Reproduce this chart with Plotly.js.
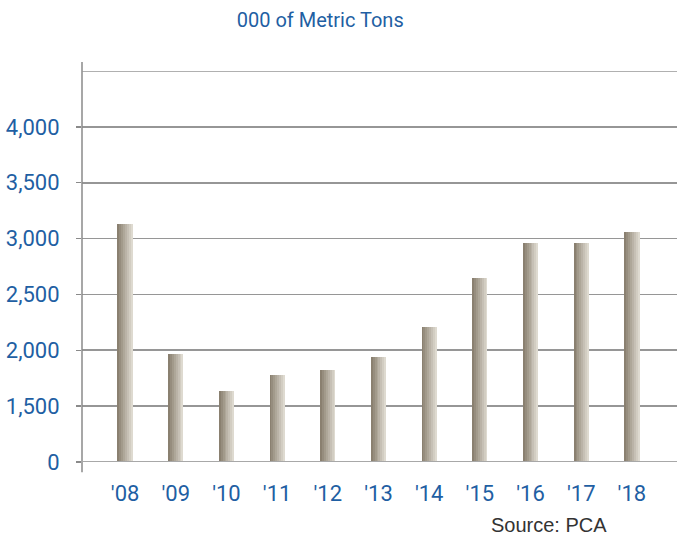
<!DOCTYPE html>
<html>
<head>
<meta charset="utf-8">
<script src="https://cdn.plot.ly/plotly-3.0.1.min.js"></script>
<style>
html,body{margin:0;padding:0;background:#fff;}#chart{width:677px;height:538px;}
</style>
</head>
<body>
<div id="chart"></div>
<script>
const years = ["'08","'09","'10","'11","'12","'13","'14","'15","'16","'17","'18"];
const shipments = [3128, 1964, 1634, 1778, 1823, 1937, 2206, 2646, 2958, 2958, 3056];
const yTickValues = [1000, 1500, 2000, 2500, 3000, 3500, 4000];
const yTickLabels = ["0", "1,500", "2,000", "2,500", "3,000", "3,500", "4,000"];

const barWidth = 0.3;
const strips = 8;
const c0 = [138, 128, 112], c1 = [222, 218, 208];
const traces = [];
for (let i = 0; i < strips; i++) {
  const t = i / (strips - 1);
  const c = c0.map((v, k) => Math.round(v + (c1[k] - v) * t));
  traces.push({
    type: 'bar', x: years, y: shipments,
    width: barWidth / strips,
    offset: -barWidth / 2 + i * barWidth / strips,
    marker: {color: 'rgb(' + c.join(',') + ')', line: {width: 0}},
    hoverinfo: 'skip', showlegend: false
  });
}

const blue = '#1f5fa3';
const fam = 'Roboto, "DejaVu Sans", sans-serif';
const layout = {
  width: 677, height: 538,
  margin: {l: 82, r: 0, t: 71, b: 76},
  paper_bgcolor: '#fff', plot_bgcolor: '#fff',
  barmode: 'overlay', bargap: 0,
  showlegend: false,
  font: {family: fam, color: blue},
  title: {text: '000 of Metric Tons', x: 0.473, xanchor: 'center', y: 0.962, yanchor: 'middle',
          font: {size: 20, color: blue, family: fam}},
  xaxis: {
    type: 'category', range: [-0.85, 10.89], showgrid: false, zeroline: false,
    showline: false, ticks: '', tickfont: {size: 22, color: blue, family: fam}, ticklabelstandoff: 16
  },
  yaxis: {
    range: [1000, 4500], tickvals: yTickValues, ticktext: yTickLabels,
    showgrid: true, gridcolor: '#969696', gridwidth: 1.6, zeroline: false,
    showline: false, ticks: 'outside', ticklen: 5, tickcolor: '#8a8a8a', tickwidth: 1.5,
    tickfont: {size: 22, color: blue, family: fam}, ticklabelstandoff: 12
  },
  shapes: [
    {type: 'line', xref: 'paper', yref: 'paper', x0: 0, x1: 0, y0: -0.026, y1: 1.023,
     line: {color: '#8a8a8a', width: 1.5}},
    {type: 'line', xref: 'paper', yref: 'y', x0: 0, x1: 1, y0: 4500, y1: 4500,
     line: {color: '#969696', width: 1.6}},
    {type: 'line', xref: 'paper', yref: 'y', x0: 0, x1: 1, y0: 1000, y1: 1000,
     line: {color: '#a8a8a8', width: 2.2}}
  ],
  annotations: [
    {text: 'Source: PCA', xref: 'paper', yref: 'paper', x: 0.886, y: -0.16, xanchor: 'right', yanchor: 'middle',
     showarrow: false, font: {size: 20, color: '#333', family: '"Liberation Sans", Arial, sans-serif'}}
  ]
};
Plotly.newPlot('chart', traces, layout, {staticPlot: true, displayModeBar: false});
</script>
</body>
</html>
